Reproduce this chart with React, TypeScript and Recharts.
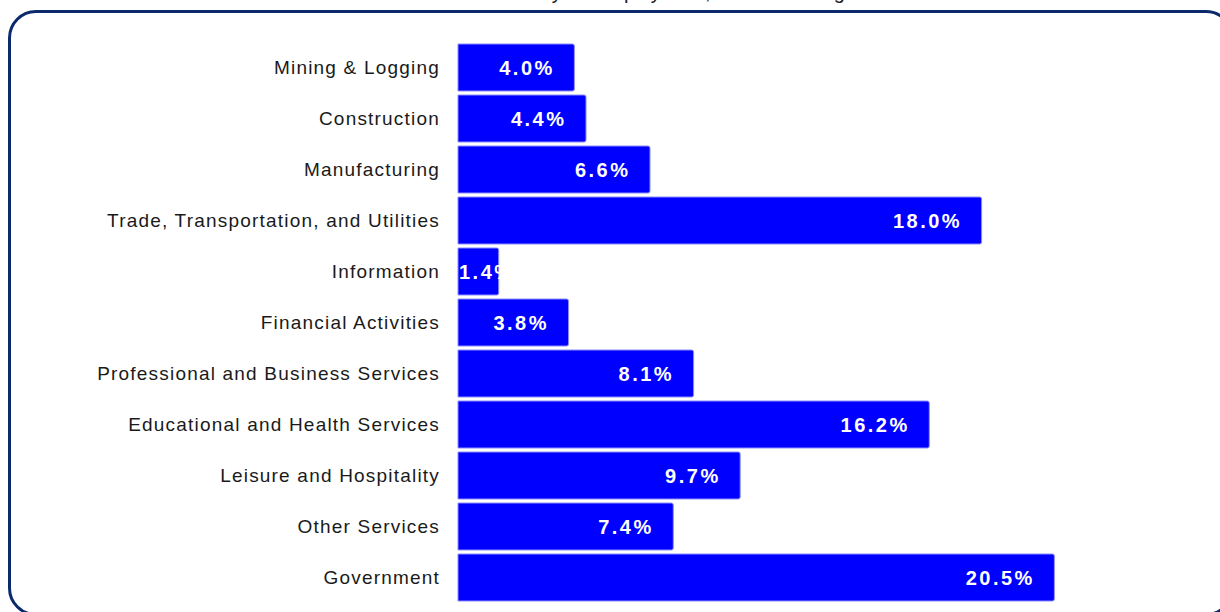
import React from "react";
import { BarChart, Bar, XAxis, YAxis, LabelList } from "recharts";

const categories = [
  "Mining & Logging",
  "Construction",
  "Manufacturing",
  "Trade, Transportation, and Utilities",
  "Information",
  "Financial Activities",
  "Professional and Business Services",
  "Educational and  Health Services",
  "Leisure and Hospitality",
  "Other Services",
  "Government",
];
const shares = [4.0, 4.4, 6.6, 18.0, 1.4, 3.8, 8.1, 16.2, 9.7, 7.4, 20.5];
const titleText = "Nonfarm Payroll Employment, Annual Average";

const data = categories.map((name, i) => ({ name, value: shares[i] }));

const FONT = "Arial, 'Liberation Sans', sans-serif";

const charW = (c: string) => (c === "." ? 5.6 : c === "%" ? 17.8 : 11.1);
const textWidth = (s: string, ls: number) =>
  s.split("").reduce((a, c) => a + charW(c), 0) + ls * (s.length - 1);

const ValueLabel = (props: any) => {
  const { x, y, width, height, value } = props;
  const txt = `${Number(value).toFixed(1)}%`;
  const w = textWidth(txt, 2.5);
  const end = x + width;
  const sx = Math.max(x + 1, end - 22 - w);
  return (
    <text
      x={sx}
      y={y + height / 2 + 7}
      fill="#ffffff"
      fontFamily={FONT}
      fontWeight="bold"
      fontSize={20}
      letterSpacing={2.5}
      textAnchor="start"
    >
      {txt}
    </text>
  );
};

const CatTick = (props: any) => {
  const { x, y, payload } = props;
  return (
    <text
      x={x - 10}
      y={y + 6.5}
      fill="#1a1a1a"
      fontFamily={FONT}
      fontSize={19}
      letterSpacing={1.2}
      textAnchor="end"
    >
      {payload.value}
    </text>
  );
};

export default function App() {
  return (
    <div style={{ position: "absolute", left: 0, top: 0, width: 1220, height: 612, overflow: "hidden", background: "#fff" }}>
      <div
        style={{
          position: "absolute",
          left: 445,
          top: -18.5,
          width: 470,
          height: 20,
          lineHeight: "20px",
          fontFamily: FONT,
          fontSize: 20,
          color: "#1a1a1a",
          whiteSpace: "nowrap",
        }}
      >
        {titleText}
      </div>
      <div
        style={{
          position: "absolute",
          left: 8,
          top: 10,
          width: 1226,
          height: 606,
          border: "3px solid #0c2a6b",
          borderRadius: 28,
          boxSizing: "border-box",
        }}
      />
      <div style={{ position: "absolute", left: 0, top: 0 }}>
        <BarChart
          width={1220}
          height={612}
          data={data}
          layout="vertical"
          margin={{ top: 42, right: 122, bottom: 9, left: 0 }}
          barSize={47}
        >
          <XAxis type="number" domain={[0, 22]} hide />
          <YAxis
            type="category"
            dataKey="name"
            width={458}
            axisLine={false}
            tickLine={false}
            tick={<CatTick />}
            interval={0}
          />
          <Bar
            dataKey="value"
            fill="#0000ff"
            stroke="#8c8cff"
            strokeWidth={1}
            radius={[0, 2, 2, 0]}
            isAnimationActive={false}
          >
            <LabelList dataKey="value" content={<ValueLabel />} />
          </Bar>
        </BarChart>
      </div>
    </div>
  );
}
